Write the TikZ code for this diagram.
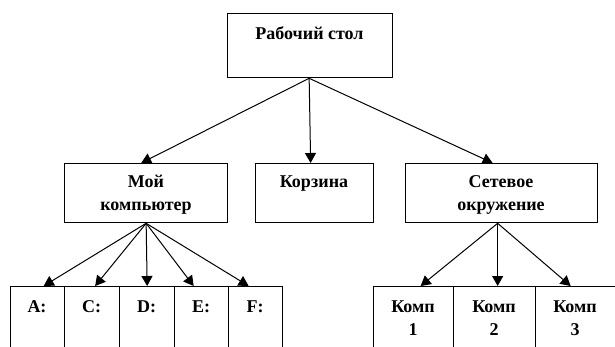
\documentclass[tikz,border=0pt]{standalone}
\usepackage{fontspec}
\setmainfont{Liberation Serif}
\usetikzlibrary{arrows.meta}
\begin{document}
\begin{tikzpicture}[x=1pt,y=-1pt,
  box/.style={draw, line width=1.3pt, anchor=north west, inner sep=0pt},
  lbl/.style={font=\bfseries\fontsize{18}{23}\selectfont, align=center, inner sep=0pt},
  conn/.style={line width=1pt, -{Triangle[length=10pt,width=11pt]}}]
\useasboundingbox (0,0) rectangle (615,346);
\clip (0,0) rectangle (615,346);
% top
\node[box, minimum width=165pt, minimum height=64pt] (top) at (227,13) {};
\node[lbl] (topl) at (309.5,33) {Рабочий стол};
% middle
\node[box, minimum width=163pt, minimum height=59pt] (mc) at (64,163) {};
\node[lbl] (mcl) at (146,195) {Мой\\компьютер};
\node[box, minimum width=118pt, minimum height=59pt] (kr) at (255,163) {};
\node[lbl] (krl) at (314,184) {Корзина};
\node[box, minimum width=192pt, minimum height=59pt] (so) at (405,163) {};
\node[lbl] (sol) at (501,195) {Сетевое\\окружение};
% bottom left cells
\node[box, minimum width=54pt, minimum height=80pt] (a) at (10,286) {};
\node[box, minimum width=55pt, minimum height=80pt] (c) at (64,286) {};
\node[box, minimum width=55pt, minimum height=80pt] (d) at (119,286) {};
\node[box, minimum width=54pt, minimum height=80pt] (e) at (174,286) {};
\node[box, minimum width=54pt, minimum height=80pt] (f) at (228,286) {};
\node[lbl] (al) at (37,307) {A:};
\node[lbl] (cl) at (91.5,307) {C:};
\node[lbl] (dl) at (146.5,307) {D:};
\node[lbl] (el) at (201,307) {E:};
\node[lbl] (fl) at (255,307) {F:};
% bottom right cells
\node[box, minimum width=80pt, minimum height=80pt] (k1) at (373,286) {};
\node[box, minimum width=82pt, minimum height=80pt] (k2) at (453,286) {};
\node[box, minimum width=90pt, minimum height=80pt] (k3) at (535,286) {};
\node[lbl] (k1l) at (413,318) {Комп\\1};
\node[lbl] (k2l) at (494,318) {Комп\\2};
\node[lbl] (k3l) at (575,318) {Комп\\3};
% connectors
\draw[conn] ([xshift=-1pt]top.south) -- ([xshift=-5pt]mc.north);
\draw[conn] ([xshift=-1pt]top.south) -- ([xshift=-4pt]kr.north);
\draw[conn] ([xshift=-1pt]top.south) -- ([xshift=-9pt]so.north);
\draw[conn] (mc.south) -- ([xshift=6pt]a.north);
\draw[conn] (mc.south) -- ([xshift=3pt]c.north);
\draw[conn] (mc.south) -- (d.north);
\draw[conn] (mc.south) -- ([xshift=-8pt]e.north);
\draw[conn] (mc.south) -- ([xshift=-7pt]f.north);
\draw[conn] ([xshift=-4pt]so.south) -- ([xshift=7pt]k1.north);
\draw[conn] ([xshift=-4pt]so.south) -- ([xshift=3pt]k2.north);
\draw[conn] ([xshift=-4pt]so.south) -- ([xshift=-10pt]k3.north);
\end{tikzpicture}
\end{document}
